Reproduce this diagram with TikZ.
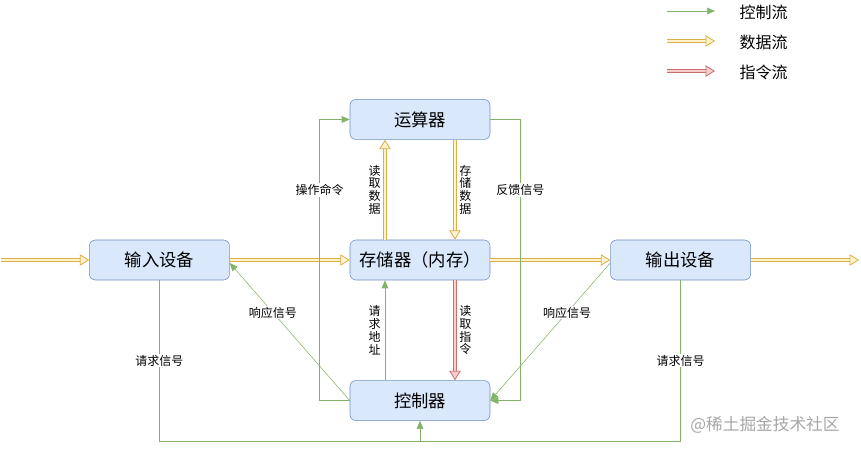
\documentclass[tikz,border=0pt]{standalone}
\usepackage{fontspec}
\setmainfont{Noto Sans CJK SC}
\usepackage{tikz}
\usetikzlibrary{arrows.meta, positioning}
\definecolor{boxfill}{HTML}{DAE8FC}
\definecolor{boxline}{HTML}{6C8EBF}
\definecolor{ctrlline}{HTML}{82B366}
\definecolor{datafill}{HTML}{FFF2CC}
\definecolor{dataline}{HTML}{D9B04A}
\definecolor{instfill}{HTML}{F8CECC}
\definecolor{instline}{HTML}{C87070}

\begin{document}
\begin{tikzpicture}[
  x=0.75pt, y=-0.75pt,
  box/.style={draw=boxline, fill=boxfill, rounded corners=4.5pt, minimum width=105pt,
              minimum height=30pt, inner sep=0pt, font=\fontsize{13}{15}\selectfont},
  ctrl/.style={draw=ctrlline, -{Triangle[length=6pt, width=5pt]}},
  data/.style={draw=dataline, double=datafill, double distance=1.7pt, line width=0.7pt,
               -{Triangle[length=7pt, width=8.5pt, fill=datafill, line width=0.6pt]}},
  inst/.style={draw=instline, double=instfill, double distance=1.7pt, line width=0.7pt,
               -{Triangle[length=7pt, width=8.5pt, fill=instfill, line width=0.6pt]}},
  lbl/.style={fill=white, inner sep=1pt, font=\fontsize{9}{10}\selectfont},
  vlbl/.style={lbl, align=center, font=\fontsize{9}{9.6}\selectfont},
  key/.style={anchor=west, font=\fontsize{12}{14}\selectfont},
  node distance=75pt and 90pt
]
\useasboundingbox (0,0) rectangle (861,449);

\node[box] (mem) at (420,260) {存储器（内存）};
\node[box, above=of mem] (alu) {运算器};
\node[box, below=of mem] (ctl) {控制器};
\node[box, left=of mem] (inp) {输入设备};
\node[box, right=of mem] (outp) {输出设备};

\coordinate (src) at (1,260);
\coordinate (dst) at (859,260);
\draw[data] (src) -- (inp);
\draw[data] (inp) -- (mem);
\draw[data] (mem) -- (outp);
\draw[data] (outp) -- (dst);

\draw[data] ([xshift=-26.25pt]mem.north) -- ([xshift=-26.25pt]alu.south)
  node[midway, left=2pt, vlbl] {读\\取\\数\\据};
\draw[data] ([xshift=26.25pt]alu.south) -- ([xshift=26.25pt]mem.north)
  node[midway, right=2pt, vlbl] {存\\储\\数\\据};
\draw[inst] ([xshift=26.25pt]mem.south) -- ([xshift=26.25pt]ctl.north)
  node[midway, right=2pt, vlbl] {读\\取\\指\\令};
\draw[ctrl] ([xshift=-26.25pt]ctl.north) -- ([xshift=-26.25pt]mem.south)
  node[midway, left=2pt, vlbl] {请\\求\\地\\址};

\draw[ctrl] (ctl.west) -- ++(-30,0) |- (alu.west) node[pos=0.375, lbl] {操作命令};
\draw[ctrl] (alu.east) -- ++(30,0) |- (ctl.east) node[pos=0.125, lbl] {反馈信号};

\draw[ctrl] (ctl.west) -- ([yshift=-2.25pt]inp.east) node[pos=0.64, lbl] {响应信号};
\draw[ctrl] ([yshift=-2.25pt]outp.west) -- (ctl.east) node[pos=0.36, lbl] {响应信号};

\draw[ctrl] (inp.south) |- ([yshift=-15pt]ctl.south) node[pos=0.25, lbl] {请求信号} -- (ctl.south);
\draw[draw=ctrlline] (outp.south) |- ([yshift=-15pt]ctl.south) node[pos=0.25, lbl] {请求信号};

\coordinate (k1) at (667,11);
\coordinate (k2) at (715,11);
\coordinate (k3) at (667,41);
\coordinate (k4) at (715,41);
\coordinate (k5) at (667,71);
\coordinate (k6) at (715,71);
\draw[ctrl] (k1) -- (k2);
\draw[data] (k3) -- (k4);
\draw[inst] (k5) -- (k6);
\node[key] (t1) at (735,12) {控制流};
\node[key] (t2) at (735,42) {数据流};
\node[key] (t3) at (735,72) {指令流};

\node[text=black!35, font=\fontsize{12.5}{14}\selectfont] (wm) at (765,425) {@稀土掘金技术社区};
\end{tikzpicture}
\end{document}
